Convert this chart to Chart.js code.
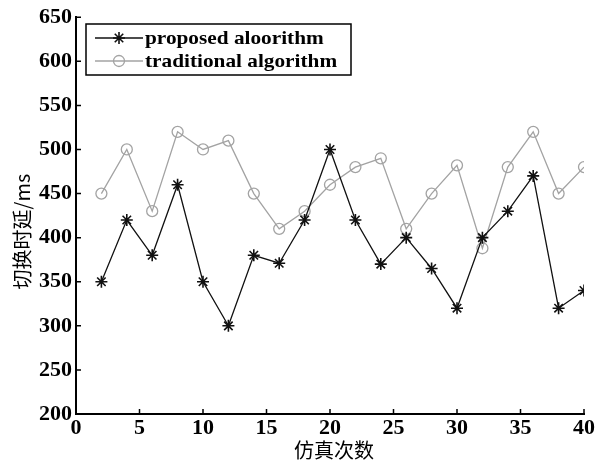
<!DOCTYPE html>
<html>
<head>
<meta charset="utf-8">
<script src="https://cdn.jsdelivr.net/npm/chart.js@4"></script>
<style>
html,body{margin:0;padding:0;background:#fff;}
#wrap{width:600px;height:461px;}
</style>
</head>
<body>
<div id="wrap"><canvas id="c" width="600" height="461"></canvas></div>
<script>
const runs = [2,4,6,8,10,12,14,16,18,20,22,24,26,28,30,32,34,36,38,40];
const proposedDelay = [350,420,380,460,350,300,380,371,420,500,420,370,400,365,320,400,430,470,320,340];
const traditionalDelay = [450,500,430,520,500,510,450,410,430,460,480,490,410,450,482,388,480,520,450,480];
const seriesNames = ['proposed aloorithm','traditional algorithm'];
const yTicks = {min:200, max:650, step:50};
const xTicks = {min:0, max:40, step:5};
const xTitle = '仿真次数';
const yTitle = '切换时延/ms';

const SERIF = '"Liberation Serif","Times New Roman",serif';
const CJK = '"Noto Sans CJK SC","Noto Sans CJK TC",sans-serif';

const toPts = (arr) => runs.map((x,i)=>({x:x, y:arr[i]}));

const chartAreaTarget = {left:76, top:17, right:584, bottom:414};

function drawMarker(ctx, ds, x, y){
  ctx.save();
  ctx.strokeStyle = ds.pointBorderColor;
  ctx.fillStyle = ds.pointBackgroundColor;
  ctx.lineWidth = ds.pointBorderWidth;
  Chart.helpers.drawPoint(ctx, {pointStyle: ds.pointStyle, radius: ds.pointRadius, borderWidth: ds.pointBorderWidth, rotation:0}, x, y);
  ctx.restore();
}

const decor = {
  id:'decor',
  beforeDraw(chart){
    const ctx = chart.ctx; ctx.save(); ctx.fillStyle='#fff'; ctx.fillRect(0,0,chart.width,chart.height); ctx.restore();
  },
  afterDraw(chart){
    const ctx = chart.ctx;
    const xs = chart.scales.x, ys = chart.scales.y;
    const a = chart.chartArea;
    ctx.save();
    // inward tick marks
    ctx.strokeStyle = '#000';
    ctx.lineWidth = 1.5;
    ctx.beginPath();
    ys.ticks.forEach(t=>{
      const p = ys.getPixelForValue(t.value);
      ctx.moveTo(a.left, p); ctx.lineTo(a.left+5, p);
    });
    xs.ticks.forEach(t=>{
      const p = xs.getPixelForValue(t.value);
      ctx.moveTo(p, a.bottom); ctx.lineTo(p, a.bottom-5);
    });
    ctx.stroke();

    // axis titles
    ctx.fillStyle = '#000';
    ctx.font = '20px ' + CJK;
    ctx.textAlign = 'center';
    ctx.textBaseline = 'middle';
    ctx.fillText(xTitle, (a.left+a.right)/2 + 4, 450);
    ctx.save();
    ctx.translate(22, (a.top+a.bottom)/2 + 16);
    ctx.rotate(-Math.PI/2);
    ctx.fillText(yTitle, 0, 0);
    ctx.restore();

    // legend
    const lx = 86, ly = 24, lw = 265, lh = 51;
    ctx.fillStyle = '#fff';
    ctx.fillRect(lx, ly, lw, lh);
    ctx.lineWidth = 1.5;
    ctx.strokeStyle = '#000';
    ctx.strokeRect(lx, ly, lw, lh);
    chart.data.datasets.forEach((ds, i)=>{
      const y = ly + 14 + i*23;
      ctx.strokeStyle = ds.borderColor;
      ctx.lineWidth = ds.borderWidth;
      ctx.beginPath();
      ctx.moveTo(lx+9, y); ctx.lineTo(lx+57, y);
      ctx.stroke();
      drawMarker(ctx, ds, lx+33, y);
      ctx.save();
      ctx.fillStyle = '#000';
      ctx.font = 'bold 19px ' + SERIF;
      ctx.textBaseline = 'middle';
      ctx.textAlign = 'left';
      ctx.translate(lx+59, y+1);
      ctx.scale(1.12, 1);
      ctx.fillText(ds.label, 0, 0);
      ctx.restore();
    });
    ctx.restore();
  }
};

new Chart(document.getElementById('c'), {
  type:'line',
  data:{
    datasets:[
      {label:seriesNames[0], data:toPts(proposedDelay), borderColor:'#111', backgroundColor:'#111', borderWidth:1.3,
       pointStyle:'star', pointRadius:6, pointBorderWidth:1.6, pointBorderColor:'#111', pointBackgroundColor:'#111', tension:0},
      {label:seriesNames[1], data:toPts(traditionalDelay), borderColor:'#a3a3a3', backgroundColor:'rgba(0,0,0,0)', borderWidth:1.3,
       pointStyle:'circle', pointRadius:5.5, pointBorderWidth:1.3, pointBorderColor:'#a3a3a3', pointBackgroundColor:'rgba(255,255,255,0)', tension:0}
    ]
  },
  options:{
    responsive:false, animation:false,
    layout:{padding:{left:0, top:5, right:16, bottom:0}},
    plugins:{legend:{display:false}, tooltip:{enabled:false}},
    scales:{
      x:{type:'linear', min:xTicks.min, max:xTicks.max,
         ticks:{stepSize:xTicks.step, color:'#000', font:{family:SERIF, size:22, weight:'bold'}, padding:1, maxRotation:0},
         grid:{display:false, drawTicks:false},
         border:{display:true, color:'#000', width:2},
         afterFit(s){ s.height = 461 - chartAreaTarget.bottom; }
      },
      y:{type:'linear', min:yTicks.min, max:yTicks.max,
         ticks:{stepSize:yTicks.step, color:'#000', font:{family:SERIF, size:22, weight:'bold'}, padding:4},
         grid:{display:false, drawTicks:false},
         border:{display:true, color:'#000', width:2},
         afterFit(s){ s.width = chartAreaTarget.left; }
      }
    }
  },
  plugins:[decor]
});
</script>
</body>
</html>
